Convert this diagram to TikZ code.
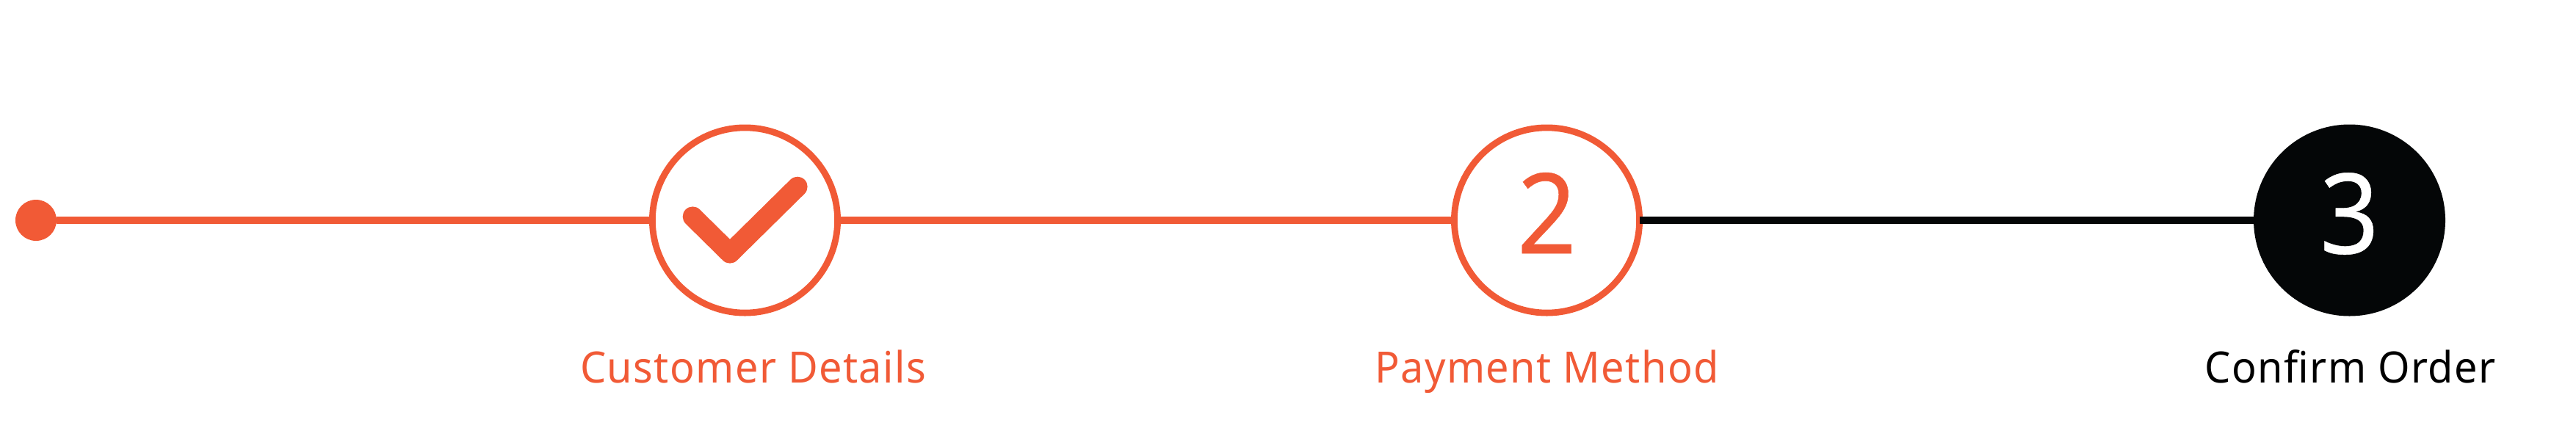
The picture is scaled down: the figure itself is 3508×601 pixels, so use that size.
\documentclass[tikz,border=0pt]{standalone}
\usepackage{fontspec}
\setmainfont{Noto Sans}[LetterSpace=2.4,FakeStretch=0.95]
\newfontfamily\digitfont{Noto Sans}[FakeBold=0.3,FakeStretch=0.93]
\definecolor{accent}{HTML}{F15A36}
\definecolor{ink}{HTML}{040607}
\tikzset{
  x=.25pt,y=-.25pt,
  stepring/.style={circle,draw=accent,fill=white,line width=2.2pt,minimum size=63.05pt,inner sep=0pt,outer sep=0pt,text=accent},
  stepdone/.style={circle,fill=ink,minimum size=65.25pt,inner sep=0pt,outer sep=0pt,text=white},
  startdot/.style={circle,fill=accent,minimum size=14pt,inner sep=0pt,outer sep=0pt},
  digit/.style={inner sep=0pt,text=#1,font=\digitfont\fontsize{38}{38}\selectfont},
  link/.style={line width=2.3pt,draw=#1},
  steplabel/.style={anchor=base,inner sep=0pt,text=#1,font=\fontsize{14.7}{14.7}\selectfont},
  tick/.style={draw=accent,line width=6.8pt,line cap=round,line join=round}
}
\begin{document}
\begin{tikzpicture}
\useasboundingbox (0,0) rectangle (3508,601);
\node[startdot] (s0) at (49,300) {};
\node[stepring] (s1) at (1014.5,300) {};
\node[stepring] (s2) at (2106.5,300) {};
\node[stepdone] (s3) at (3199.5,300) {};
\draw[link=accent] (s0) -- (s1);
\draw[link=accent] (s1) -- (s2);
\draw[link=ink] (s2) -- (s3);
\node[digit=accent] (d2) at (2106.5,290) {2};
\node[digit=white] (d3) at (3199.5,291) {3};
\coordinate (t1) at (943.3,295);
\coordinate (t2) at (994,345);
\coordinate (t3) at (1086,254.3);
\draw[tick] (t1) -- (t2) -- (t3);
\node[steplabel=accent] (l1) at (1025.5,521) {Customer Details};
\node[steplabel=accent] (l2) at (2106.5,521) {Payment Method};
\node[steplabel=black] (l3) at (3200.5,521) {Confirm Order};
\end{tikzpicture}
\end{document}
